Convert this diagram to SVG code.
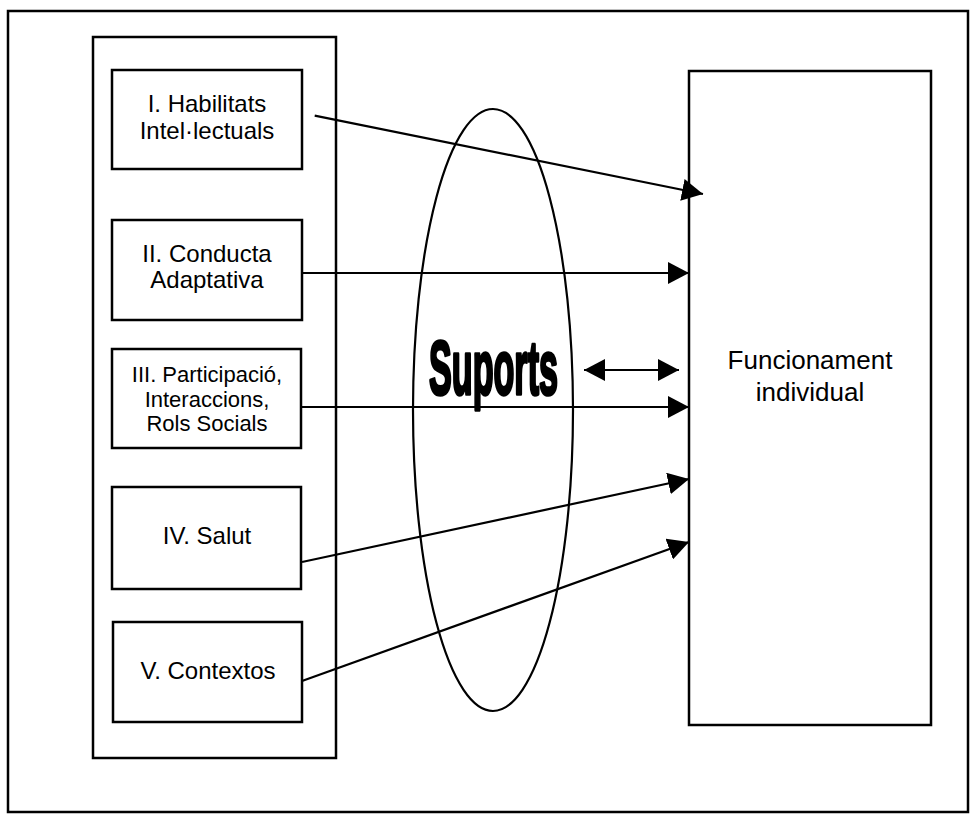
<svg xmlns="http://www.w3.org/2000/svg" width="978" height="823" viewBox="0 0 978 823">
  <style>
    .frame { fill: #ffffff; stroke: #000000; stroke-width: 2.5; }
    .box { fill: #ffffff; stroke: #000000; stroke-width: 2.5; }
    .lbl { font-family: "Liberation Sans", Arial, sans-serif; font-size: 24px; fill: #000000; text-anchor: middle; }
    .small { font-size: 22px; }
    .big { font-size: 26px; }
    .edge { fill: none; stroke: #000000; stroke-width: 2.2; }
    .title { font-family: "Liberation Sans", Arial, sans-serif; font-weight: bold; font-size: 76px; fill: #000000; stroke: #000000; stroke-width: 3.5; stroke-linejoin: round; text-anchor: middle; }
  </style>
  <defs>
    <marker id="head" markerUnits="userSpaceOnUse" markerWidth="22" markerHeight="22" refX="21" refY="11" orient="auto-start-reverse" viewBox="0 0 22 22">
      <path d="M0,0 L21,11 L0,22 Z" fill="#000000"/>
    </marker>
  </defs>

  <!-- page frame -->
  <rect class="frame" x="8" y="11" width="960" height="801"/>

  <!-- left column container -->
  <g id="dimensions">
    <rect class="box" x="93" y="37" width="243" height="721"/>
  </g>

  <g id="n1">
    <rect class="box" x="112" y="70" width="190" height="99"/>
    <text class="lbl" x="207" y="112">I. Habilitats</text>
    <text class="lbl" x="207" y="139">Intel·lectuals</text>
  </g>
  <g id="n2">
    <rect class="box" x="112" y="220" width="190" height="100"/>
    <text class="lbl" x="207" y="262">II. Conducta</text>
    <text class="lbl" x="207" y="288">Adaptativa</text>
  </g>
  <g id="n3">
    <rect class="box" x="112" y="349" width="189" height="99"/>
    <text class="lbl small" x="207" y="382">III. Participació,</text>
    <text class="lbl small" x="207" y="407">Interaccions,</text>
    <text class="lbl small" x="207" y="431">Rols Socials</text>
  </g>
  <g id="n4">
    <rect class="box" x="112" y="487" width="189" height="102"/>
    <text class="lbl" x="207" y="544">IV. Salut</text>
  </g>
  <g id="n5">
    <rect class="box" x="113" y="622" width="189" height="100"/>
    <text class="lbl" x="208" y="679">V. Contextos</text>
  </g>

  <!-- supports ellipse -->
  <g id="supports">
    <ellipse cx="493" cy="410" rx="80" ry="301" fill="none" stroke="#000000" stroke-width="2.2"/>
    <text class="title" x="493.5" y="394" textLength="129" lengthAdjust="spacingAndGlyphs">Suports</text>
  </g>

  <g id="outcome">
    <rect class="box" x="689" y="71" width="242" height="654"/>
    <text class="lbl big" x="810" y="369">Funcionament</text>
    <text class="lbl big" x="810" y="401">individual</text>
  </g>

  <!-- connectors -->
  <g id="connectors">
    <line class="edge" x1="314.7" y1="115.7" x2="703" y2="194" marker-end="url(#head)"/>
    <line class="edge" x1="302" y1="273" x2="689" y2="273" marker-end="url(#head)"/>
    <line class="edge" x1="302" y1="407" x2="689" y2="407" marker-end="url(#head)"/>
    <line class="edge" x1="584" y1="370" x2="679" y2="370" marker-start="url(#head)" marker-end="url(#head)"/>
    <line class="edge" x1="302" y1="562" x2="689" y2="479" marker-end="url(#head)"/>
    <line class="edge" x1="302" y1="681" x2="689" y2="542" marker-end="url(#head)"/>
  </g>
</svg>
